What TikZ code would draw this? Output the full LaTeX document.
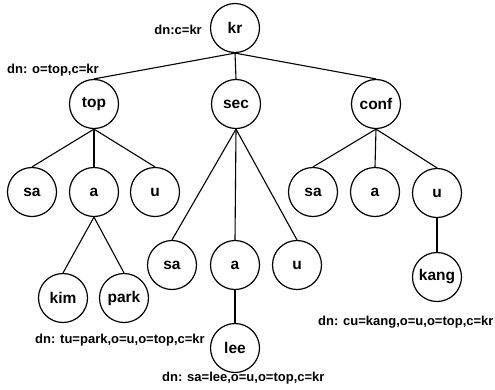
\documentclass[tikz,border=0pt]{standalone}
\usepackage{fontspec}
\setmainfont{Liberation Sans}
\tikzset{
  x=1pt, y=-1pt,
  vert/.style={circle, draw, line width=1.2pt, minimum size=49pt, inner sep=0pt,
               font=\bfseries\fontsize{15.5}{18}\selectfont},
  dnlabel/.style={inner sep=0pt, font=\bfseries\fontsize{13}{15}\selectfont},
  edge/.style={line width=1.1pt}
}
\begin{document}
\begin{tikzpicture}
\useasboundingbox (0,0) rectangle (495,389);
% root and first level
\node[vert] (kr)   at (235,28)  {kr};
\node[vert] (top)  at (94,104)  {top};
\node[vert] (sec)  at (236,104) {sec};
\node[vert] (conf) at (376,104) {conf};
% children of top
\node[vert] (sa1) at (32,192)  {sa};
\node[vert] (a1)  at (94,192)  {a};
\node[vert] (u1)  at (155,192) {u};
% children of sec
\node[vert] (sa2) at (172,265) {sa};
\node[vert] (a2)  at (235,265) {a};
\node[vert] (u2)  at (297,265) {u};
% children of conf
\node[vert] (sa3) at (313,192) {sa};
\node[vert] (a3)  at (375,192) {a};
\node[vert] (u3)  at (437,193) {u};
% leaves
\node[vert] (kim)  at (63,298)  {kim};
\node[vert] (park) at (124,298) {park};
\node[vert] (lee)  at (235,348) {lee};
\node[vert] (kang) at (437,277) {kang};
% distinguished names
\node[dnlabel, anchor=east] (dnkr)   at (202,30)  {dn:c=kr};
\node[dnlabel, anchor=west] (dntop)  at (7,70)    {dn: o=top,c=kr};
\node[dnlabel, anchor=west] (dnpark) at (35,340)  {dn: tu=park,o=u,o=top,c=kr};
\node[dnlabel, anchor=west] (dnlee)  at (162,378) {dn: sa=lee,o=u,o=top,c=kr};
\node[dnlabel, anchor=west] (dnkang) at (318,322) {dn: cu=kang,o=u,o=top,c=kr};
% tree edges
\foreach \p/\c in {kr/top, kr/sec, kr/conf,
                   top/sa1, top/a1, top/u1,
                   sec/sa2, sec/a2, sec/u2,
                   conf/sa3, conf/a3, conf/u3,
                   a1/kim, a1/park, a2/lee, u3/kang}
  \draw[edge] (\p.south) -- (\c.north);
\end{tikzpicture}
\end{document}
